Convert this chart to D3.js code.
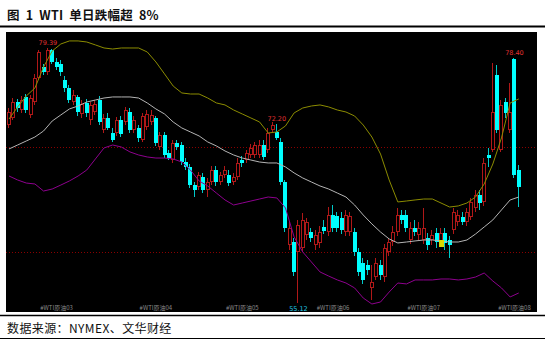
<!DOCTYPE html>
<html><head><meta charset="utf-8">
<script src="https://cdn.jsdelivr.net/npm/d3@7"></script>
<style>html,body{margin:0;padding:0;background:#fff;}svg{display:block}</style>
</head><body><svg id="c" width="545" height="342"></svg>
<script>
// ---- data (daily OHLC) ----
const opens=[72.06,72.73,74.25,73.49,74.73,73.02,74.25,76.54,77.58,77.11,
79.20,78.06,77.87,76.35,75.58,74.25,74.73,73.11,74.16,72.54,
73.30,74.44,71.59,72.73,71.30,71.30,72.54,72.35,73.30,71.59,
71.78,70.64,71.87,72.35,72.73,69.97,71.11,69.40,68.73,70.35,
70.16,68.54,68.07,66.35,66.16,67.12,65.88,66.64,67.78,66.64,
67.31,67.31,66.64,67.12,68.73,68.73,69.21,69.21,69.21,70.16,
69.69,71.59,71.40,70.45,66.64,60.65,60.93,59.98,60.36,61.60,
61.88,60.65,60.84,62.36,61.88,63.50,63.41,63.22,61.88,61.88,
61.88,59.98,58.94,58.75,56.56,57.60,58.75,57.60,59.98,60.93,
61.88,63.50,63.50,61.12,62.26,61.60,61.12,61.31,61.12,61.79,
60.93,61.79,61.12,62.07,62.84,63.31,62.84,63.31,64.17,65.40,
64.74,69.21,69.69,76.82,69.69,74.25,71.59,78.30,67.78];
const highs=[73.68,74.63,74.54,74.82,75.01,74.92,76.92,79.20,77.87,79.39,
79.29,78.44,78.25,76.73,75.87,75.39,74.92,74.44,74.54,74.25,
74.44,74.82,73.11,73.21,71.78,72.83,72.92,73.78,73.68,72.92,
72.06,73.21,73.49,73.49,72.92,71.40,71.40,69.69,70.64,70.64,
70.45,68.92,68.35,66.64,67.59,67.50,67.02,68.16,68.16,67.59,
68.16,67.78,67.50,68.92,69.12,69.69,70.26,70.45,70.64,70.64,
71.78,72.35,72.20,70.83,66.83,62.84,61.31,63.03,63.69,63.22,
62.26,62.07,62.46,63.03,64.26,64.45,63.79,63.79,63.98,63.79,
62.26,60.36,59.41,59.22,58.75,59.41,59.22,60.74,61.31,62.46,
64.17,63.98,63.98,62.84,63.03,62.84,64.17,61.79,62.07,62.26,
62.26,62.26,61.50,64.17,63.98,63.79,64.17,65.12,65.88,65.88,
68.92,69.88,77.96,77.77,74.44,74.63,76.06,78.40,68.26];
const lows=[71.78,72.54,73.30,73.21,73.21,72.73,73.97,76.35,76.82,76.82,
77.87,77.30,76.73,75.20,74.16,73.97,72.92,72.73,72.83,72.06,
73.02,72.06,71.30,71.59,70.45,71.02,70.92,72.06,71.30,71.30,
70.45,70.45,71.59,72.06,70.07,69.69,68.92,68.73,68.45,69.69,
68.26,67.78,66.07,65.21,65.88,65.59,65.21,66.35,66.26,66.35,
67.02,66.26,66.35,66.83,68.07,68.45,68.92,68.92,68.92,68.73,
69.40,71.30,70.64,66.35,61.88,60.17,57.69,55.12,59.98,61.12,
60.93,60.17,60.36,61.69,61.50,61.88,61.88,61.69,61.50,61.50,
59.60,57.69,56.94,57.79,55.41,57.32,57.32,57.13,59.60,60.55,
61.50,62.65,61.88,60.74,61.50,61.12,60.74,60.17,60.65,60.36,
60.55,60.17,59.41,61.69,62.46,62.55,62.46,63.03,63.79,63.98,
64.36,68.07,69.50,71.30,69.50,72.73,71.30,67.02,64.26];
const closes=[73.30,74.25,73.68,74.44,73.49,74.63,76.54,79.01,77.11,79.20,
78.06,77.58,77.11,75.58,74.44,74.92,73.30,74.06,73.21,73.97,
74.06,72.35,72.73,71.78,70.64,72.54,71.21,73.49,71.59,72.54,
70.83,72.92,73.11,73.02,70.35,71.11,69.21,68.92,70.35,69.97,
68.54,68.07,66.35,65.88,67.31,65.88,66.64,67.78,66.64,67.31,
67.78,66.54,67.12,68.45,68.45,69.40,69.88,70.16,70.16,69.02,
71.30,72.06,70.83,66.64,62.26,62.26,58.08,62.55,63.03,62.84,
61.31,61.60,61.88,61.98,63.50,62.26,62.26,62.07,63.50,63.41,
59.98,58.08,57.32,58.27,57.13,58.94,57.79,60.36,60.93,61.88,
63.50,63.03,62.26,62.26,61.88,62.26,62.26,60.65,61.60,60.93,
61.79,60.84,60.65,63.79,63.50,62.84,63.79,64.74,65.40,64.64,
68.45,68.92,73.30,71.59,73.97,73.21,73.30,67.31,66.16];
// Bollinger bands, read at every 2nd candle
const bandStep=2;
const upperBand=[72.63,73.78,74.82,75.58,77.58,79.10,79.77,80.06,80.06,79.96,
79.68,79.39,79.29,79.39,79.39,79.39,79.01,78.06,76.92,75.77,
75.11,75.01,75.01,74.63,74.16,73.97,73.49,73.11,72.73,72.35,
71.30,71.40,71.97,73.21,73.68,73.87,73.97,73.78,73.49,73.30,
72.92,72.06,70.92,69.30,66.83,64.74,64.83,64.93,65.02,65.02,
64.64,64.26,64.36,64.64,65.21,66.45,68.35,70.83,74.16,74.54];
const middleBand=[69.78,70.16,70.54,70.92,71.49,72.44,73.02,73.59,73.87,74.25,
74.44,74.63,74.73,74.73,74.73,74.63,74.16,73.59,73.11,72.35,
71.78,71.40,71.02,70.45,70.07,69.59,69.21,68.92,68.73,68.54,
68.45,68.45,68.07,67.50,67.02,66.64,66.26,65.97,65.59,65.21,
64.45,63.50,62.65,61.88,61.22,60.84,60.93,61.03,61.12,61.12,
61.03,60.93,60.93,61.12,61.69,62.36,63.03,63.98,64.93,65.21];
const lowerBand=[67.21,66.83,66.54,66.45,65.78,65.97,66.35,66.74,67.21,67.78,
68.83,69.88,70.16,69.97,69.50,69.21,69.02,68.92,68.92,68.83,
68.54,67.78,66.74,66.26,65.59,64.93,64.45,64.64,64.83,65.02,
65.21,65.12,64.17,61.41,59.98,59.03,58.08,57.69,57.32,57.03,
56.56,55.60,55.03,55.22,56.17,57.03,56.94,57.32,57.32,57.32,
57.41,57.41,57.32,57.41,57.60,57.98,57.22,56.56,55.70,56.08];
const tickIdx=[11,34,54,75,96,117];
const tickLabels=["#WTI原油03","#WTI原油04","#WTI原油05","#WTI原油06","#WTI原油07","#WTI原油08"];
const highMarks=[9,62,117];
const lowMarks=[67];
const gridPrices=[60,70];
const signalIdx=[100];
const signalPrice=[60.74];

// ---- layout ----
const svg=d3.select("#c");
const W=545,H=342;
const panel={x0:6,x1:537,y0:32,y1:312};
const n=opens.length;
const x=d3.scaleBand().domain(d3.range(n)).range([6.84,6.84+n*4.32]).padding(0);
const cx=i=>x(i)+x.bandwidth()/2;
const y=d3.scaleLinear().domain([54.27,80.91]).range([panel.y1,panel.y0]);
const RED="#b01818", CYAN="#00ffff";

svg.append("rect").attr("width",W).attr("height",H).attr("fill","#fff");
// title
svg.append("text").attr("x",7).attr("y",19.5).attr("font-family","'Noto Sans CJK SC'")
  .attr("font-weight","bold").attr("font-size",12.5).attr("word-spacing",3).attr("letter-spacing",0.2)
  .attr("fill","#111").text("图 1 WTI 单日跌幅超 8%");
svg.append("line").attr("x1",0).attr("x2",W).attr("y1",26.5).attr("y2",26.5).attr("stroke","#000").attr("stroke-width",2);
// panel
svg.append("rect").attr("x",panel.x0).attr("y",panel.y0).attr("width",panel.x1-panel.x0).attr("height",panel.y1-panel.y0).attr("fill","#000");
const g=svg.append("g");
// grid dotted lines
g.selectAll("line.grid").data(gridPrices).join("line").attr("class","grid")
 .attr("x1",panel.x0).attr("x2",panel.x1).attr("y1",d=>Math.round(y(d))+0.5).attr("y2",d=>Math.round(y(d))+0.5)
 .attr("stroke","#8a0000").attr("stroke-width",1).attr("stroke-dasharray","1,2");

// candles
const idx=d3.range(n);
const cg=g.append("g").attr("shape-rendering","crispEdges");
idx.forEach(i=>{
  const px=Math.round(cx(i));
  const up=closes[i]>=opens[i];
  const col=up?RED:CYAN;
  const yo=Math.round(y(opens[i])), yc=Math.round(y(closes[i]));
  const yh=Math.round(y(highs[i])), yl=Math.round(y(lows[i]));
  const top=Math.min(yo,yc), bot=Math.max(yo,yc);
  const wx=px-0.5;
  if(up){
    if(yh<top) cg.append("line").attr("x1",wx).attr("x2",wx).attr("y1",yh).attr("y2",top).attr("stroke",col);
    if(yl>bot) cg.append("line").attr("x1",wx).attr("x2",wx).attr("y1",bot).attr("y2",yl).attr("stroke",col);
    cg.append("rect").attr("x",px-1.5).attr("y",top+0.5).attr("width",3).attr("height",Math.max(1,bot-top-1))
      .attr("fill","#000").attr("stroke",col).attr("stroke-width",1);
  } else {
    cg.append("line").attr("x1",wx).attr("x2",wx).attr("y1",yh).attr("y2",yl).attr("stroke","#00c8c8");
    cg.append("rect").attr("x",px-2).attr("y",top).attr("width",4).attr("height",Math.max(1,bot-top)).attr("fill",col);
  }
});

// bands
const line=d3.line().x((d,k)=>cx(k*bandStep)).y(d=>y(d));
[[upperBand,"#8c8c00"],[middleBand,"#b4b4b4"],[lowerBand,"#8e008e"]].forEach(([arr,c])=>{
  g.append("path").datum(arr).attr("d",line).attr("fill","none").attr("stroke",c).attr("stroke-width",1);
});

// extreme labels
g.selectAll("text.hi").data(highMarks).join("text").attr("class","hi")
 .attr("x",i=>cx(i)).attr("y",i=>y(highs[i])-3).attr("text-anchor","middle")
 .attr("font-family","'DejaVu Sans'").attr("font-size",6.5).attr("fill","#e03030").text(i=>highs[i].toFixed(2));
g.selectAll("text.lo").data(lowMarks).join("text").attr("class","lo")
 .attr("x",i=>cx(i)).attr("y",i=>y(lows[i])+8).attr("text-anchor","middle")
 .attr("font-family","'DejaVu Sans'").attr("font-size",6.5).attr("fill","#20c8e8").text(i=>lows[i].toFixed(2));

// signal marker
g.selectAll("rect.sig").data(signalIdx).join("rect").attr("class","sig")
 .attr("x",(d)=>Math.round(cx(d))-2).attr("y",(d,k)=>Math.round(y(signalPrice[k]))-4).attr("width",5).attr("height",7).attr("fill","#d8d800");

// x tick labels
g.selectAll("text.tk").data(tickIdx).join("text").attr("class","tk")
 .attr("x",i=>cx(i)).attr("y",310).attr("text-anchor","middle")
 .attr("font-family","'Noto Sans CJK SC'").attr("font-size",6).attr("fill","#8a8a8a")
 .text((d,k)=>tickLabels[k]);

// footer
svg.append("line").attr("x1",0).attr("x2",W).attr("y1",315.5).attr("y2",315.5).attr("stroke","#000").attr("stroke-width",1.5);
svg.append("text").attr("x",7).attr("y",332.5).attr("font-family","'Noto Sans CJK SC'")
  .attr("font-size",12).attr("letter-spacing",0.4).attr("fill","#111").text("数据来源：NYMEX、文华财经");
svg.append("line").attr("x1",0).attr("x2",W).attr("y1",338.5).attr("y2",338.5).attr("stroke","#000").attr("stroke-width",1);
</script></body></html>
